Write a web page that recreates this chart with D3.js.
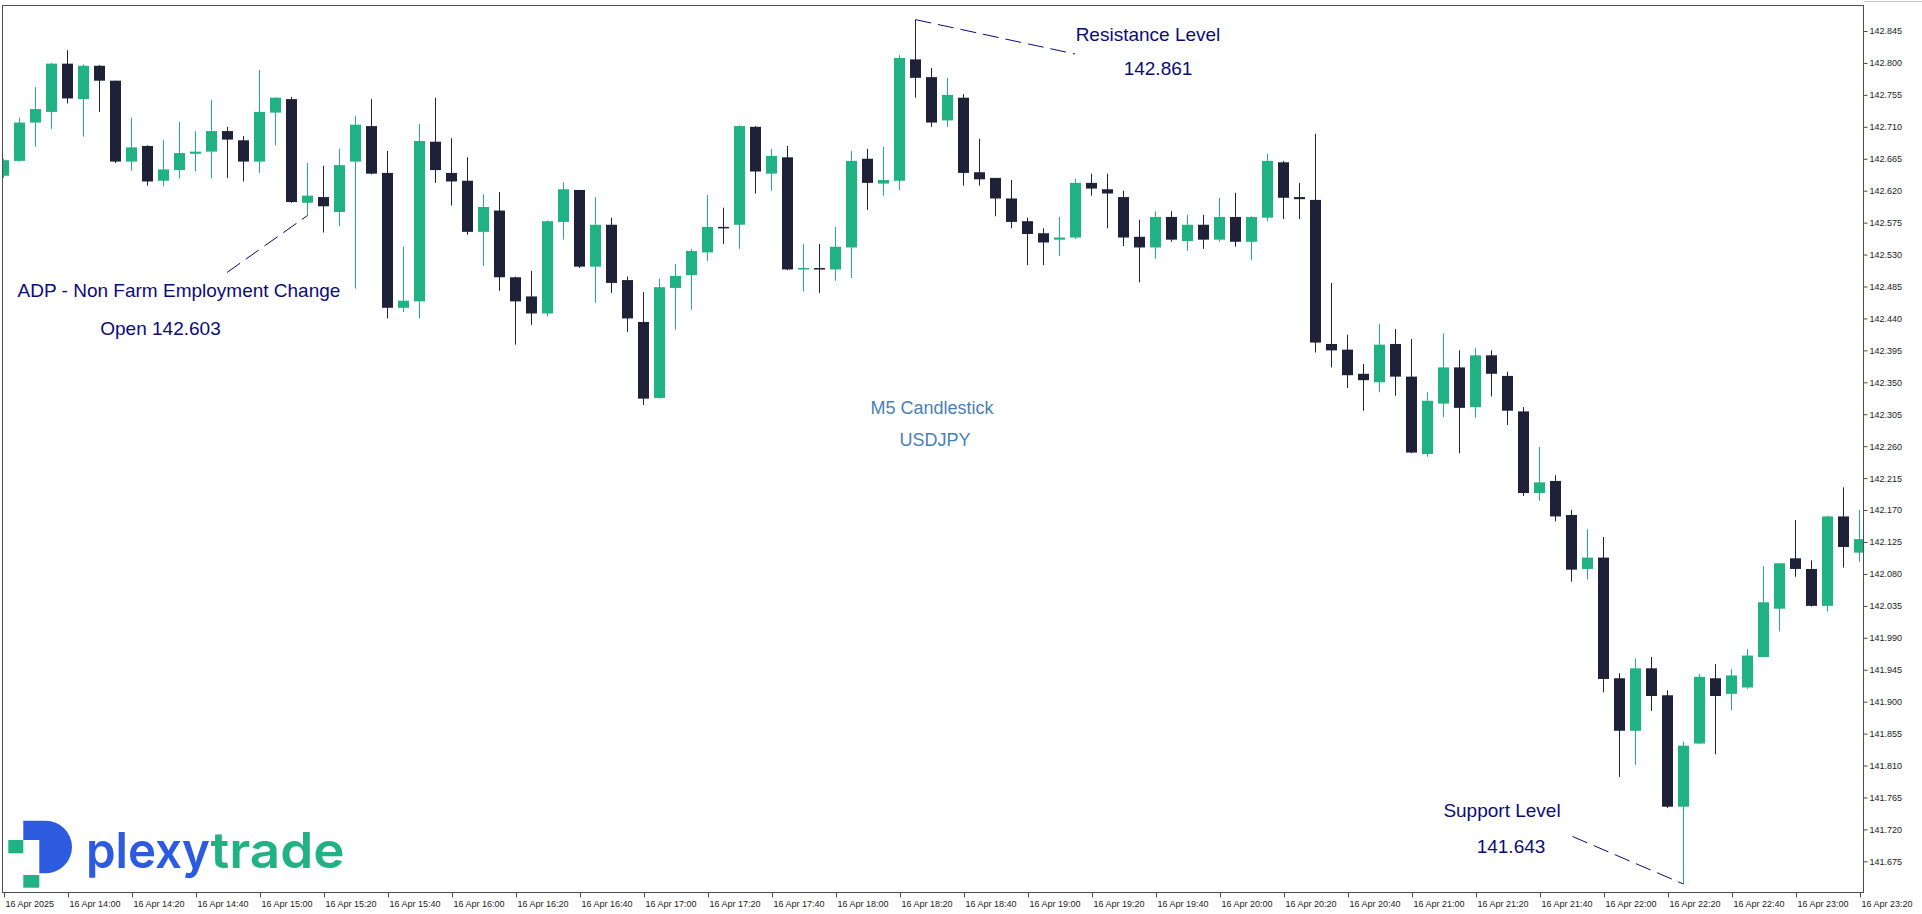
<!DOCTYPE html>
<html>
<head>
<meta charset="utf-8">
<script src="https://cdn.jsdelivr.net/npm/d3@7/dist/d3.min.js"></script>
<style>
  html, body { margin: 0; padding: 0; background: #ffffff; overflow: hidden; }
  svg { display: block; }
</style>
</head>
<body>
<svg id="chart" width="1922" height="914"></svg>
<script>
// ---------------- DATA ----------------
const times = [
  "13:40","13:45","13:50","13:55","14:00","14:05","14:10","14:15","14:20","14:25","14:30","14:35",
  "14:40","14:45","14:50","14:55","15:00","15:05","15:10","15:15","15:20","15:25","15:30","15:35",
  "15:40","15:45","15:50","15:55","16:00","16:05","16:10","16:15","16:20","16:25","16:30","16:35",
  "16:40","16:45","16:50","16:55","17:00","17:05","17:10","17:15","17:20","17:25","17:30","17:35",
  "17:40","17:45","17:50","17:55","18:00","18:05","18:10","18:15","18:20","18:25","18:30","18:35",
  "18:40","18:45","18:50","18:55","19:00","19:05","19:10","19:15","19:20","19:25","19:30","19:35",
  "19:40","19:45","19:50","19:55","20:00","20:05","20:10","20:15","20:20","20:25","20:30","20:35",
  "20:40","20:45","20:50","20:55","21:00","21:05","21:10","21:15","21:20","21:25","21:30","21:35",
  "21:40","21:45","21:50","21:55","22:00","22:05","22:10","22:15","22:20","22:25","22:30","22:35",
  "22:40","22:45","22:50","22:55","23:00","23:05","23:10","23:15","23:20"
];
const opens = [
  142.641,142.662,142.716,142.731,142.799,142.749,142.796,142.775,142.661,142.683,142.634,142.649,
  142.672,142.675,142.704,142.691,142.661,142.730,142.749,142.603,142.611,142.590,142.661,142.711,
  142.645,142.455,142.464,142.689,142.645,142.634,142.562,142.592,142.498,142.471,142.447,142.576,
  142.621,142.513,142.572,142.494,142.435,142.328,142.483,142.501,142.533,142.569,142.572,142.710,
  142.644,142.667,142.509,142.511,142.509,142.540,142.665,142.630,142.634,142.805,142.780,142.719,
  142.751,142.646,142.638,142.609,142.577,142.560,142.551,142.554,142.631,142.622,142.611,142.555,
  142.540,142.583,142.549,142.572,142.551,142.583,142.548,142.582,142.660,142.611,142.607,142.404,
  142.396,142.362,142.350,142.404,142.358,142.249,142.320,142.371,142.315,142.388,142.359,142.309,
  142.194,142.211,142.163,142.087,142.103,141.933,141.859,141.947,141.909,141.752,141.841,141.933,
  141.911,141.920,141.963,142.031,142.102,142.087,142.035,142.161,142.110
];
const highs = [
  142.665,142.723,142.766,142.800,142.818,142.798,142.797,142.775,142.723,142.684,142.691,142.717,
  142.704,142.748,142.710,142.697,142.790,142.752,142.752,142.659,142.655,142.679,142.725,142.749,
  142.676,142.541,142.714,142.751,142.694,142.667,142.615,142.618,142.499,142.507,142.578,142.632,
  142.621,142.611,142.582,142.499,142.477,142.496,142.517,142.538,142.614,142.596,142.712,142.711,
  142.679,142.683,142.545,142.545,142.569,142.676,142.679,142.682,142.811,142.861,142.793,142.779,
  142.756,142.693,142.638,142.635,142.582,142.567,142.583,142.637,142.644,142.644,142.620,142.579,
  142.591,142.591,142.586,142.586,142.610,142.617,142.584,142.672,142.662,142.631,142.700,142.490,
  142.417,142.376,142.432,142.425,142.411,142.336,142.419,142.395,142.398,142.395,142.365,142.315,
  142.259,142.219,142.170,142.143,142.132,141.940,141.961,141.963,141.916,141.844,141.939,141.953,
  141.946,141.974,142.091,142.095,142.156,142.099,142.162,142.202,142.170
];
const lows = [
  142.638,142.661,142.682,142.707,142.743,142.696,142.731,142.659,142.648,142.627,142.626,142.637,
  142.647,142.637,142.638,142.633,142.645,142.684,142.603,142.585,142.561,142.570,142.482,142.643,
  142.440,142.449,142.440,142.631,142.599,142.558,142.514,142.479,142.403,142.431,142.443,142.551,
  142.511,142.462,142.476,142.421,142.318,142.327,142.424,142.452,142.521,142.545,142.538,142.616,
  142.620,142.508,142.478,142.476,142.493,142.497,142.593,142.613,142.621,142.751,142.710,142.710,
  142.627,142.627,142.584,142.567,142.515,142.515,142.528,142.552,142.613,142.567,142.542,142.491,
  142.524,142.548,142.535,142.538,142.548,142.541,142.522,142.577,142.580,142.580,142.392,142.371,
  142.342,142.310,142.336,142.331,142.250,142.245,142.301,142.250,142.300,142.330,142.290,142.190,
  142.183,142.154,142.069,142.072,141.913,141.794,141.811,141.887,141.750,141.643,141.840,141.826,
  141.888,141.918,141.963,141.999,142.076,142.034,142.027,142.089,142.097
];
const closes = [
  142.663,142.716,142.735,142.799,142.750,142.796,142.775,142.661,142.681,142.633,142.650,142.673,
  142.675,142.704,142.692,142.661,142.731,142.751,142.604,142.613,142.598,142.656,142.713,142.644,
  142.455,142.465,142.690,142.649,142.633,142.562,142.597,142.498,142.464,142.447,142.577,142.622,
  142.513,142.572,142.490,142.440,142.327,142.484,142.500,142.535,142.569,142.568,142.711,142.647,
  142.669,142.509,142.511,142.509,142.541,142.662,142.631,142.635,142.807,142.779,142.716,142.755,
  142.645,142.636,142.609,142.576,142.559,142.547,142.554,142.631,142.623,142.616,142.554,142.540,
  142.583,142.551,142.572,142.551,142.583,142.548,142.583,142.662,142.610,142.608,142.406,142.395,
  142.360,142.353,142.403,142.358,142.251,142.324,142.371,142.314,142.388,142.362,142.310,142.194,
  142.209,142.161,142.086,142.103,141.932,141.859,141.947,141.908,141.752,141.838,141.935,141.908,
  141.937,141.965,142.040,142.095,142.087,142.035,142.161,142.118,142.129
];
const priceTicks = [
  142.845,142.800,142.755,142.710,142.665,142.620,142.575,142.530,142.485,142.440,142.395,142.350,
  142.305,142.260,142.215,142.170,142.125,142.080,142.035,141.990,141.945,141.900,141.855,141.810,
  141.765,141.720,141.675
];
const timeTickAt = [
  "13:40","14:00","14:20","14:40","15:00","15:20","15:40","16:00","16:20","16:40","17:00","17:20",
  "17:40","18:00","18:20","18:40","19:00","19:20","19:40","20:00","20:20","20:40","21:00","21:20",
  "21:40","22:00","22:20","22:40","23:00","23:20"
];
const timeTickLabels = [
  "16 Apr 2025","16 Apr 14:00","16 Apr 14:20","16 Apr 14:40","16 Apr 15:00","16 Apr 15:20",
  "16 Apr 15:40","16 Apr 16:00","16 Apr 16:20","16 Apr 16:40","16 Apr 17:00","16 Apr 17:20",
  "16 Apr 17:40","16 Apr 18:00","16 Apr 18:20","16 Apr 18:40","16 Apr 19:00","16 Apr 19:20",
  "16 Apr 19:40","16 Apr 20:00","16 Apr 20:20","16 Apr 20:40","16 Apr 21:00","16 Apr 21:20",
  "16 Apr 21:40","16 Apr 22:00","16 Apr 22:20","16 Apr 22:40","16 Apr 23:00","16 Apr 23:20"
];
// annotations
const resistance = { time: "18:25", price: 142.861, title: "Resistance Level", value: "142.861" };
const support = { time: "22:25", price: 141.643, title: "Support Level", value: "141.643" };
const eventNote = { time: "15:15", price: 142.585, title: "ADP - Non Farm Employment Change", value: "Open 142.603" };

// ---------------- LAYOUT ----------------
const W = 1922, H = 914;
const plot = { left: 2, top: 5, right: 1864, bottom: 893 };
const GREEN = "#20b282", DARK = "#1f2138", NAVY = "#0c0c78", STEEL = "#4a7fb4", AXIS = "#4d4d4d";

const svg = d3.select("#chart");
const candles = times.map((t, i) => ({ t, o: opens[i], h: highs[i], l: lows[i], c: closes[i] }));

const x = d3.scaleBand().domain(times).range([-4.5, 1867.5]).padding(0);
const xc = t => x(t) + x.bandwidth() / 2;
const y = d3.scaleLinear().domain([141.675, 142.845]).range([861.35, 31]);

svg.append("defs").append("clipPath").attr("id", "clip")
  .append("rect").attr("x", plot.left).attr("y", plot.top)
  .attr("width", plot.right - plot.left).attr("height", plot.bottom - plot.top);

const g = svg.append("g").attr("clip-path", "url(#clip)");

// candles
const cg = g.selectAll("g.candle").data(candles).join("g").attr("class", "candle");
cg.append("line")
  .attr("x1", d => xc(d.t)).attr("x2", d => xc(d.t))
  .attr("y1", d => y(d.h)).attr("y2", d => y(d.l))
  .attr("stroke", d => d.c >= d.o ? GREEN : DARK).attr("stroke-width", 1);
const bw = x.bandwidth() - 5;
cg.append("rect")
  .attr("x", d => xc(d.t) - bw / 2)
  .attr("y", d => y(Math.max(d.o, d.c)))
  .attr("width", bw)
  .attr("height", d => Math.max(1.5, Math.abs(y(d.o) - y(d.c))))
  .attr("fill", d => d.c >= d.o ? GREEN : DARK);

// frame
svg.append("rect").attr("x", plot.left + 0.5).attr("y", plot.top + 0.5)
  .attr("width", plot.right - plot.left - 1).attr("height", plot.bottom - plot.top - 1)
  .attr("fill", "none").attr("stroke", AXIS).attr("stroke-width", 1);
svg.append("line").attr("x1", plot.right).attr("x2", W).attr("y1", 1.5).attr("y2", 1.5)
  .attr("stroke", "#c8c8c8").attr("stroke-width", 1);

// price axis
const yAxis = svg.append("g").attr("transform", `translate(${plot.right - 0.5},0)`)
  .call(d3.axisRight(y).tickValues(priceTicks).tickFormat(d3.format(".3f")).tickSize(4).tickPadding(2));
yAxis.select(".domain").remove();
yAxis.selectAll(".tick line").attr("stroke", AXIS);
yAxis.selectAll(".tick text").attr("fill", "#222").style("font-family", "'Liberation Sans', Arial, sans-serif").style("font-size", "9px");

// time axis
const labelOf = {};
timeTickAt.forEach((t, i) => labelOf[t] = timeTickLabels[i]);
const xAxis = svg.append("g").attr("transform", `translate(0,${plot.bottom - 0.5})`)
  .call(d3.axisBottom({ ...{}, }.f || (t => xc(t))).tickValues ? d3.axisBottom(x) : null);
xAxis.remove();
const xa = svg.append("g").attr("transform", `translate(0,${plot.bottom - 0.5})`);
const xAx = d3.axisBottom(d3.scalePoint().domain(times).range([xc(times[0]), xc(times[times.length - 1])]))
  .tickValues(timeTickAt).tickFormat(t => labelOf[t]).tickSize(5).tickPadding(3);
xa.call(xAx);
xa.select(".domain").remove();
xa.selectAll(".tick line").attr("stroke", AXIS).attr("transform", "translate(0.5,0)");
xa.selectAll(".tick text").attr("text-anchor", "start").attr("x", 1.5).attr("fill", "#222")
  .style("font-family", "'Liberation Sans', Arial, sans-serif").style("font-size", "9px");

// annotations
const annoFont = "'Liberation Sans', Arial, sans-serif";
function txt(str, cx, by, color, size) {
  svg.append("text").attr("x", cx).attr("y", by).attr("text-anchor", "middle")
    .attr("fill", color).style("font-family", annoFont).style("font-size", size + "px").text(str);
}
function dashed(x1, y1, x2, y2) {
  svg.append("line").attr("x1", x1).attr("y1", y1).attr("x2", x2).attr("y2", y2)
    .attr("stroke", NAVY).attr("stroke-width", 1).attr("stroke-dasharray", "16,7");
}
// resistance
dashed(xc(resistance.time), y(resistance.price), 1075, 54);
txt(resistance.title, 1148, 40.5, NAVY, 19);
txt(resistance.value, 1158, 74.5, NAVY, 19);
// support
dashed(1572.5, 836.5, xc(support.time), y(support.price));
txt(support.title, 1502, 816.5, NAVY, 19);
txt(support.value, 1511, 852.5, NAVY, 19);
// event
dashed(227, 272.5, xc(eventNote.time), y(eventNote.price));
txt(eventNote.title, 179, 296.5, NAVY, 19);
txt(eventNote.value, 160.5, 335, NAVY, 19);
// center titles
txt("M5 Candlestick", 932, 414, STEEL, 18);
txt("USDJPY", 935, 446, STEEL, 18);

// logo
const logo = svg.append("g");
logo.append("path")
  .attr("d", "M23.3,820.7 L45.7,820.7 A26.3,26.3 0 0 1 45.7,873.3 L39.3,873.3 L39.3,840 L23.3,840 Z")
  .attr("fill", "#2c5be0");
logo.append("rect").attr("x", 8.3).attr("y", 840).attr("width", 15).attr("height", 13.3).attr("fill", GREEN);
logo.append("rect").attr("x", 23.3).attr("y", 875).attr("width", 16).attr("height", 12.7).attr("fill", GREEN);
logo.append("text").attr("x", 86).attr("y", 868).attr("textLength", 124).attr("lengthAdjust", "spacingAndGlyphs")
  .attr("fill", "#2c5be0").style("font-family", "Inter, 'Open Sans', sans-serif").style("font-weight", 600)
  .style("font-size", "50px").text("plexy");
logo.append("text").attr("x", 210.5).attr("y", 868).attr("textLength", 134).attr("lengthAdjust", "spacingAndGlyphs")
  .attr("fill", GREEN).style("font-family", "Inter, 'Open Sans', sans-serif").style("font-weight", 600)
  .style("font-size", "50px").text("trade");
</script>
</body>
</html>
